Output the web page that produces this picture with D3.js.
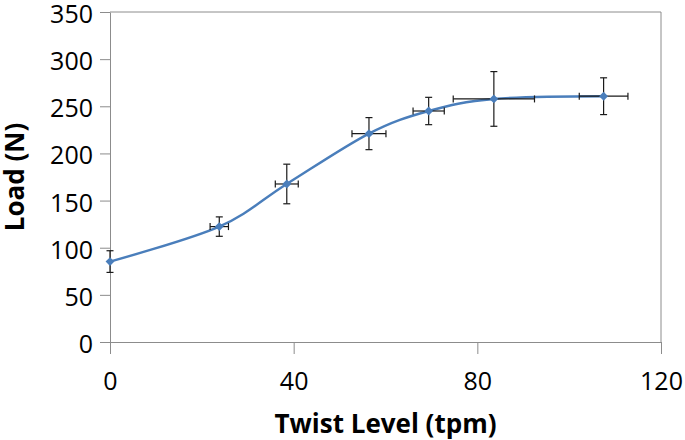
<!DOCTYPE html>
<html><head><meta charset="utf-8">
<script src="https://cdn.jsdelivr.net/npm/d3@7"></script>
<style>body{margin:0;background:#fff}svg{display:block}</style>
</head><body>
<svg id="c" width="685" height="440"></svg>
<script>
const twist = [0, 23.8, 38.5, 56.4, 69.4, 83.6, 107.5];
const load = [85.3, 122.4, 167.6, 221.0, 245.0, 257.8, 260.7];
const loadErr = [11.5, 10.3, 21.0, 17.0, 14.5, 29.0, 19.5];
const twistErr = [0, 2.0, 2.5, 3.7, 3.4, 8.85, 5.3];
const xTicks = [0, 40, 80, 120];
const yTicks = [0, 50, 100, 150, 200, 250, 300, 350];
const xTitle = "Twist Level (tpm)";
const yTitle = "Load (N)";

const svg = d3.select("#c");
const L = 110, R = 661, T = 12, B = 342;
const x = d3.scaleLinear().domain([0, 120]).range([L, R]);
const y = d3.scaleLinear().domain([0, 350]).range([B, T]);
const grey = "#8c8c8c";
const font = "'Open Sans', sans-serif";

// plot border top/right
svg.append("line").attr("x1", L).attr("x2", R).attr("y1", T).attr("y2", T).attr("stroke", grey).attr("stroke-width", 1);
svg.append("line").attr("x1", R).attr("x2", R).attr("y1", T).attr("y2", B).attr("stroke", grey).attr("stroke-width", 1);

const yAxis = svg.append("g").attr("transform", `translate(${L},0)`)
  .call(d3.axisLeft(y).tickValues(yTicks).tickSize(10).tickSizeOuter(0).tickPadding(7));
const xAxis = svg.append("g").attr("transform", `translate(0,${B})`)
  .call(d3.axisBottom(x).tickValues(xTicks).tickSize(12).tickSizeOuter(0).tickPadding(18));
[yAxis, xAxis].forEach(a => {
  a.select(".domain").attr("stroke", grey).attr("stroke-width", 1);
  a.selectAll(".tick line").attr("stroke", grey).attr("stroke-width", 1);
  a.selectAll(".tick text").attr("fill", "#000").style("font-family", font).style("font-size", "25px");
});
yAxis.selectAll(".tick text").attr("dy", "0.42em");

// titles
svg.append("text").attr("x", (L + R) / 2).attr("y", 433).attr("text-anchor", "middle")
  .style("font-family", font).style("font-weight", "bold").style("font-size", "26px").text(xTitle);
svg.append("text").attr("transform", `translate(24,${(T + B) / 2}) rotate(-90)`).attr("text-anchor", "middle")
  .style("font-family", font).style("font-weight", "bold").style("font-size", "26px").text(yTitle);

const data = twist.map((t, i) => ({t, l: load[i], le: loadErr[i], te: twistErr[i]}));

// line
svg.append("path").datum(data)
  .attr("d", d3.line().x(d => x(d.t)).y(d => y(d.l)).curve(d3.curveCardinal.tension(0)))
  .attr("fill", "none").attr("stroke", "#4a7ebb").attr("stroke-width", 2.4);

// error bars
const eb = svg.append("g").attr("stroke", "#1a1a1a").attr("stroke-width", 1.2);
const cap = 3.5;
data.forEach(d => {
  const cx = x(d.t), cy = y(d.l);
  if (d.le > 0) {
    eb.append("line").attr("x1", cx).attr("x2", cx).attr("y1", y(d.l + d.le)).attr("y2", y(d.l - d.le));
    eb.append("line").attr("x1", cx - cap).attr("x2", cx + cap).attr("y1", y(d.l + d.le)).attr("y2", y(d.l + d.le));
    eb.append("line").attr("x1", cx - cap).attr("x2", cx + cap).attr("y1", y(d.l - d.le)).attr("y2", y(d.l - d.le));
  }
  if (d.te > 0) {
    eb.append("line").attr("x1", x(d.t - d.te)).attr("x2", x(d.t + d.te)).attr("y1", cy).attr("y2", cy);
    eb.append("line").attr("x1", x(d.t - d.te)).attr("x2", x(d.t - d.te)).attr("y1", cy - cap).attr("y2", cy + cap);
    eb.append("line").attr("x1", x(d.t + d.te)).attr("x2", x(d.t + d.te)).attr("y1", cy - cap).attr("y2", cy + cap);
  }
});

// markers
svg.append("g").selectAll("path").data(data).join("path")
  .attr("transform", d => `translate(${x(d.t)},${y(d.l)})`)
  .attr("d", d3.symbol(d3.symbolDiamond2, 50))
  .attr("fill", "#4a7ebb");
</script>
</body></html>
